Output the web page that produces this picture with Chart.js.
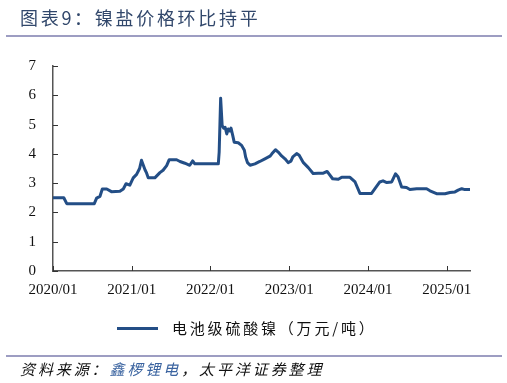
<!DOCTYPE html>
<html>
<head>
<meta charset="utf-8">
<script src="https://cdn.jsdelivr.net/npm/chart.js@4/dist/chart.umd.min.js"></script>
<style>
  html, body { margin:0; padding:0; background:#fff; }
  #wrap { position:relative; width:507px; height:383px; overflow:hidden; }
  canvas { position:absolute; left:0; top:0; }
  .title { position:absolute; left:20px; top:4px; font-family:"Noto Sans CJK SC"; font-size:18px; letter-spacing:2.7px; color:#31476b; white-space:nowrap; }
  .rule { position:absolute; left:6px; width:496px; height:2px; background:#9d9dc2; }
  .src { position:absolute; left:20px; top:358px; font-family:"Noto Sans CJK SC"; font-size:15px; letter-spacing:2.9px; font-style:italic; color:#111; white-space:nowrap; }
  .src .b { color:#3b64a0; }
  .leg { position:absolute; left:117px; top:318px; height:20px; white-space:nowrap; }
  .leg .ln { position:absolute; left:0; top:9px; width:41px; height:3px; background:#234e86; }
  .leg .tx { position:absolute; left:55px; top:0; font-family:"Noto Sans CJK SC"; font-size:15px; letter-spacing:2.8px; color:#111; line-height:20px; }
</style>
</head>
<body>
<div id="wrap">
  <canvas id="c" width="507" height="383"></canvas>
  <div class="title">图表9：镍盐价格环比持平</div>
  <div class="rule" style="top:35px"></div>
  <div class="rule" style="top:355px"></div>
  <div class="leg"><div class="ln"></div><div class="tx">电池级硫酸镍（万元/吨）</div></div>
  <div class="src">资料来源：<span class="b">鑫椤锂电</span>，太平洋证券整理</div>
</div>
<script>
const dates = [
 "2020-01-01","2020-02-21","2020-03-04","2020-07-10","2020-07-21","2020-08-06","2020-08-17","2020-09-07","2020-09-29","2020-11-07",
 "2020-11-23","2020-12-05","2020-12-23","2021-01-08","2021-01-24","2021-02-07","2021-02-16","2021-03-02","2021-03-09","2021-03-17",
 "2021-04-17","2021-04-25","2021-05-10","2021-05-25","2021-06-11","2021-06-23","2021-07-27","2021-08-12","2021-09-04","2021-09-27",
 "2021-10-10","2021-10-20","2022-02-07","2022-02-11","2022-02-18","2022-02-25","2022-03-01","2022-03-08","2022-03-16","2022-03-23",
 "2022-03-31","2022-04-05","2022-04-13","2022-04-20","2022-05-08","2022-05-24","2022-06-06","2022-06-12","2022-06-21","2022-07-02",
 "2022-07-25","2022-08-17","2022-09-10","2022-10-03","2022-10-12","2022-10-29","2022-11-11","2022-11-27","2022-12-12","2022-12-27",
 "2023-01-09","2023-01-18","2023-02-05","2023-02-17","2023-03-06","2023-03-29","2023-04-21","2023-05-14","2023-06-07","2023-06-25",
 "2023-07-20","2023-08-16","2023-09-01","2023-10-09","2023-11-02","2023-11-25","2024-01-18","2024-02-03","2024-02-26","2024-03-10",
 "2024-03-28","2024-04-20","2024-05-07","2024-05-19","2024-06-05","2024-06-28","2024-07-13","2024-08-14","2024-09-30","2024-10-15",
 "2024-11-15","2024-12-24","2025-01-16","2025-02-09","2025-02-24","2025-03-10","2025-03-25","2025-04-18"
];
const prices = [
 2.50,2.50,2.30,2.30,2.49,2.55,2.80,2.80,2.71,2.72,
 2.80,2.98,2.93,3.18,3.30,3.50,3.78,3.45,3.35,3.18,
 3.18,3.24,3.36,3.44,3.60,3.80,3.80,3.74,3.68,3.61,
 3.76,3.66,3.66,4.06,5.90,4.97,4.88,4.91,4.68,4.85,
 4.78,4.88,4.63,4.40,4.38,4.29,4.12,3.89,3.70,3.61,
 3.66,3.74,3.83,3.92,4.00,4.14,4.06,3.93,3.83,3.70,
 3.75,3.90,4.01,3.95,3.70,3.53,3.33,3.34,3.34,3.40,
 3.15,3.13,3.20,3.20,3.04,2.65,2.65,2.81,3.04,3.08,
 3.02,3.04,3.32,3.22,2.87,2.85,2.78,2.81,2.81,2.74,
 2.64,2.64,2.68,2.70,2.76,2.81,2.78,2.78
];
const yearLabels = ["2020/01","2021/01","2022/01","2023/01","2024/01","2025/01"];
const seriesName = "电池级硫酸镍（万元/吨）";

function monthOffset(s){
  const [y,m,d] = s.split("-").map(Number);
  return (y-2020)*12 + (m-1) + (d-1)/31;
}
const points = dates.map((d,i)=>({x:monthOffset(d), y:prices[i]}));
const xMax = points[points.length-1].x;

const innerTicks = {
  id:'innerTicks',
  afterDraw(chart){
    const {ctx, scales:{x,y}, chartArea:a} = chart;
    ctx.save();
    ctx.strokeStyle = '#333';
    ctx.lineWidth = 1;
    ctx.beginPath();
    for (let v=0; v<=7; v++){
      const py = Math.round(y.getPixelForValue(v))+0.5;
      ctx.moveTo(a.left, py); ctx.lineTo(a.left+5, py);
    }
    for (let k=0; k<yearLabels.length; k++){
      const px = Math.round(x.getPixelForValue(k*12))+0.5;
      ctx.moveTo(px, a.bottom); ctx.lineTo(px, a.bottom-5);
    }
    ctx.stroke();
    ctx.restore();
  }
};

new Chart(document.getElementById('c'), {
  type:'line',
  data:{ datasets:[{ label:seriesName, data:points, borderColor:'#234e86', borderWidth:3, pointRadius:0, tension:0, fill:false, borderJoinStyle:'round' }] },
  options:{
    responsive:false, animation:false,
    layout:{ padding:{ left:0, top:66, right:37, bottom:82 } },
    plugins:{ legend:{display:false}, tooltip:{enabled:false}, title:{display:false} },
    scales:{
      x:{ type:'linear', min:0, max:xMax,
          afterBuildTicks(s){ s.ticks = yearLabels.map((_,k)=>({value:k*12})); },
          afterFit(s){ s.height = 30; },
          grid:{ display:false, drawTicks:false },
          border:{ display:true, color:'#555', width:1.5 },
          ticks:{ autoSkip:false, maxRotation:0, padding:10, color:'#111',
                  font:{ family:'"Liberation Serif", "Times New Roman", serif', size:15 },
                  callback:(v)=>yearLabels[Math.round(v/12)] } },
      y:{ min:0, max:7,
          afterFit(s){ s.width = 53; },
          grid:{ display:false, drawTicks:false },
          border:{ display:true, color:'#555', width:1.5 },
          ticks:{ stepSize:1, padding:17, color:'#111',
                  font:{ family:'"Liberation Serif", "Times New Roman", serif', size:15 } } }
    }
  },
  plugins:[innerTicks]
});
</script>
</body>
</html>
